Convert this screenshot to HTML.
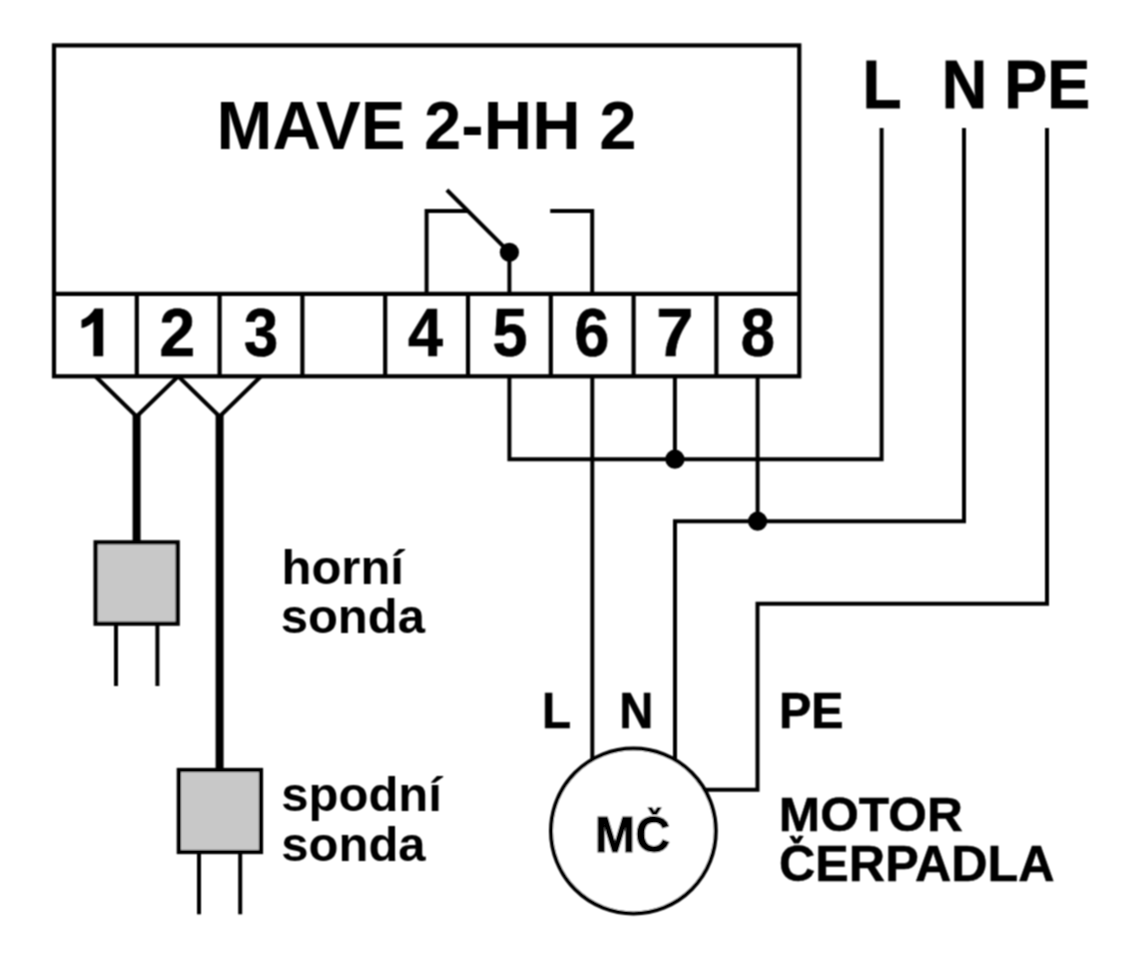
<!DOCTYPE html>
<html><head><meta charset="utf-8">
<style>
html,body{margin:0;padding:0;background:#fff;}
svg{display:block;}

text{font-family:"Liberation Sans",sans-serif;font-weight:bold;fill:#000;}
</style></head>
<body>
<svg width="1140" height="960" viewBox="0 0 1140 960">
<defs><filter id="bl" filterUnits="userSpaceOnUse" x="0" y="0" width="1140" height="960"><feConvolveMatrix order="3" kernelMatrix="1 2 1 2 4 2 1 2 1" divisor="16" edgeMode="none"/></filter></defs>
<rect width="1140" height="960" fill="#fff"/>
<g filter="url(#bl)">
<g fill="none" stroke="#000" stroke-width="4.2" stroke-linecap="butt" stroke-linejoin="miter">
<!-- main box -->
<rect x="54" y="45.4" width="745.3" height="330.9"/>
<line x1="54" y1="293.8" x2="799.3" y2="293.8"/>
<line x1="136.8" y1="293.8" x2="136.8" y2="376.3"/>
<line x1="219.6" y1="293.8" x2="219.6" y2="376.3"/>
<line x1="302.4" y1="293.8" x2="302.4" y2="376.3"/>
<line x1="385.2" y1="293.8" x2="385.2" y2="376.3"/>
<line x1="468" y1="293.8" x2="468" y2="376.3"/>
<line x1="550.8" y1="293.8" x2="550.8" y2="376.3"/>
<line x1="633.6" y1="293.8" x2="633.6" y2="376.3"/>
<line x1="716.4" y1="293.8" x2="716.4" y2="376.3"/>
</g>
<g fill="none" stroke="#000" stroke-width="4" stroke-linecap="butt" stroke-linejoin="miter">
<!-- relay -->
<polyline points="426.6,293.8 426.6,211.1 468,211.1"/>
<line x1="446.9" y1="190" x2="509.4" y2="252.3"/>
<line x1="509.4" y1="252.3" x2="509.4" y2="293.8"/>
<polyline points="550.2,211.1 592.2,211.1 592.2,293.8"/>
<!-- wires -->
<polyline points="509.4,376.3 509.4,459.2 881.6,459.2 881.6,128"/>
<line x1="674.9" y1="376.3" x2="674.9" y2="459.2"/>
<polyline points="675,780 675,521.2 964,521.2 964,128"/>
<line x1="757.6" y1="376.3" x2="757.6" y2="521.2"/>
<polyline points="690,789.8 757.5,789.8 757.5,603.7 1047,603.7 1047,128"/>
<line x1="592.3" y1="376.3" x2="592.3" y2="780"/>
<!-- probe Y -->
<line x1="95.4" y1="376.3" x2="136.6" y2="416.5"/>
<line x1="136.6" y1="416.5" x2="178.2" y2="376.3"/>
<line x1="178.2" y1="376.3" x2="219.6" y2="416.5"/>
<line x1="219.6" y1="416.5" x2="261" y2="376.3"/>
<!-- pins -->
<line x1="116" y1="623.7" x2="116" y2="686"/>
<line x1="157.4" y1="623.7" x2="157.4" y2="686"/>
<line x1="199" y1="852" x2="199" y2="914.3"/>
<line x1="240.2" y1="852" x2="240.2" y2="914.3"/>
<!-- motor -->
<circle cx="633.4" cy="831" r="82.4" fill="#fff"/>
</g>
<g stroke="#000" stroke-width="8" fill="none">
<line x1="136.6" y1="414" x2="136.6" y2="542.3"/>
<line x1="219.6" y1="414" x2="219.6" y2="770"/>
</g>
<g stroke="#000" stroke-width="4.2" fill="#c8c8c8">
<rect x="95.6" y="542.3" width="82.1" height="81.4"/>
<rect x="178.8" y="770" width="82.2" height="82"/>
</g>
<g fill="#000">
<circle cx="509.4" cy="252.3" r="9.6"/>
<circle cx="674.9" cy="459.2" r="9.6"/>
<circle cx="757.6" cy="521.2" r="9.6"/>
</g>
<!-- texts -->
<text transform="translate(216.5 148.7) scale(0.987 1)" font-size="68">MAVE 2-HH 2</text>
<path d="M103.2 308.5 L103.2 356.2 L93.4 356.2 L93.4 322 C89 326 85 327.5 81.5 328 L81.5 320 C87 318 92 313 94.5 308.5 Z" fill="#000"/>
<g font-size="67.8" stroke="#000" stroke-width="0.7">
<text transform="translate(159.58 356.0) scale(0.9448 1)">2</text>
<text transform="translate(243.99 355.9) scale(0.9071 1)">3</text>
<text transform="translate(407.97 355.8) scale(0.9277 1)">4</text>
<text transform="translate(492.45 356.0) scale(0.9289 1)">5</text>
<text transform="translate(574.21 356.0) scale(0.9308 1)">6</text>
<text transform="translate(656.35 356.0) scale(0.9843 1)">7</text>
<text transform="translate(740.69 355.9) scale(0.9071 1)">8</text>
</g>
<text transform="translate(862.42 107.7) scale(0.9451 1)" font-size="67.68" stroke="#000" stroke-width="0.8">L</text>
<text transform="translate(941.78 107.6) scale(0.9315 1)" font-size="67.61" stroke="#000" stroke-width="0.8">N</text>
<text transform="translate(1004.19 107.7) scale(0.9518 1)" font-size="67.68" stroke="#000" stroke-width="0.8">PE</text>
<g font-size="49">
<text x="281.5" y="584">horní</text>
<text x="280.7" y="633.2">sonda</text>
<text x="281.3" y="810.8">spodní</text>
<text x="281.3" y="860.8">sonda</text>
</g>
<text transform="translate(541.94 727.75) scale(0.9358 1)" font-size="50.72" stroke="#000" stroke-width="0.7">L</text>
<text transform="translate(619.49 727.75) scale(0.9207 1)" font-size="50.72" stroke="#000" stroke-width="0.7">N</text>
<text transform="translate(779.00 727.65) scale(0.9564 1)" font-size="50.43" stroke="#000" stroke-width="0.7">PE</text>
<text transform="translate(594.74 852.1) scale(0.9698 1)" font-size="50.14" stroke="#000" stroke-width="0.9">MC</text>
<text transform="translate(778.83 830.85) scale(1.0199 1)" font-size="48.71" stroke="#000" stroke-width="0.5">MOTOR</text>
<text transform="translate(778.94 880.95) scale(1.0206 1)" font-size="49.29" stroke="#000" stroke-width="0.5">CERPADLA</text>
<path d="M647.4 807.5 L651.9 807 L654.6 811 L657.3 807 L661.8 807.5 L657 815 L652.2 815 Z" fill="#000"/>
<path d="M789.3 836 L793.8 835.5 L796.5 839.6 L799.2 835.5 L803.7 836 L798.9 843.4 L794.1 843.4 Z" fill="#000"/>
</g>
</svg>
</body></html>
